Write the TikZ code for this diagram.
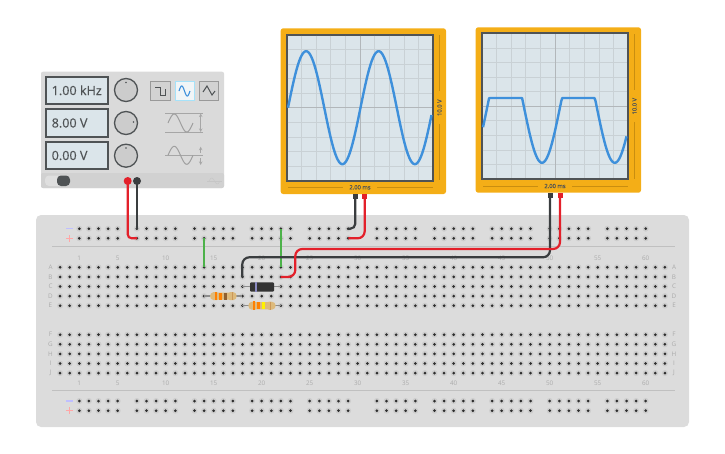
\documentclass[tikz,border=0pt]{standalone}
\usepackage{fontspec}
\setmainfont{Open Sans}
\newfontfamily\readfont[FakeBold=0.35]{Open Sans}
\definecolor{boardgrey}{HTML}{DCDCDC}
\definecolor{holehalo}{HTML}{CDCDCD}
\definecolor{holedark}{HTML}{2E2E2E}
\definecolor{labelgrey}{HTML}{ABABAB}
\definecolor{panelgrey}{HTML}{DADADA}
\definecolor{screenblue}{HTML}{DBE5EA}
\definecolor{framedark}{HTML}{4F5355}
\definecolor{scopeorange}{HTML}{F4AE17}
\definecolor{scopetick}{HTML}{C98E10}
\definecolor{traceblue}{HTML}{3E90DB}
\definecolor{wirered}{HTML}{E3202A}
\definecolor{wireblack}{HTML}{3A3D3F}
\definecolor{wiregreen}{HTML}{4DB24A}
\definecolor{restan}{HTML}{DDBA7C}
\tikzset{
  hole/.pic={\fill[holehalo] (0,0) circle (3);\fill[holedark] (0,0) circle (1.5);},
  redwire/.style={draw=wirered,line width=2.2pt,rounded corners=7pt},
  blackwire/.style={draw=wireblack,line width=2.2pt,rounded corners=7pt},
  greenwire/.style={draw=wiregreen,line width=2.3pt},
  lead/.style={draw=gray!90,line width=1.3pt},
  boardtext/.style={text=labelgrey,font=\fontsize{6.3}{7}\selectfont,inner sep=0pt},
  display/.style={draw=framedark,line width=2pt,fill=screenblue},
  readout/.style={text=framedark,font=\readfont\fontsize{12.6}{13}\selectfont,anchor=west,inner sep=0pt},
  knob/.style={draw=framedark,line width=1.3pt,fill=gray!40!white,circle,minimum size=23pt,inner sep=0pt},
  wavebutton/.style={draw=gray!80,line width=1pt,fill=gray!35!white},
  scopebody/.style={fill=scopeorange,rounded corners=2.5pt},
  gridline/.style={draw=gray!20!screenblue,line width=.7pt},
  trace/.style={draw=traceblue,line width=2.4pt,line join=round},
  scopetext/.style={text=framedark,font=\readfont\fontsize{5.8}{6}\selectfont,inner sep=0pt},
  scaleline/.style={draw=scopetick,line width=.6pt}
}
\begin{document}
\begin{tikzpicture}[x=1pt,y=-1pt]
  \useasboundingbox (0,0) rectangle (725,453);
  % breadboard
  \fill[boardgrey,rounded corners=5pt] (36,215) rectangle (689,427);
  \draw[gray!30!boardgrey,line width=.5pt] (52,246.7) -- (675,246.7);
  \draw[gray!30!boardgrey,line width=.5pt] (52,390.7) -- (675,390.7);
  % main holes
  \foreach \c in {-1,...,62} {
    \foreach \y in {267.3,276.9,286.5,296.1,305.7,334.7,344.3,353.9,363.5,373.1} {
      \pic at ({69.7+9.6*\c},\y) {hole};
    }
  }
  % rails
  \foreach \g in {1,7,13,19,25,32,38,44,50,56} {
    \foreach \i in {0,...,4} {
      \foreach \y in {228.7,238.3,401,410.7} {
        \pic at ({69.7+9.6*(\g+\i)},\y) {hole};
      }
    }
  }
  % board labels
  \foreach \n in {1,5,10,15,...,60} {
    \node[boardtext] (top\n) at ({69.7+9.6*\n},258) {\n};
    \node[boardtext] (bot\n) at ({69.7+9.6*\n},383.5) {\n};
  }
  \foreach \l/\y in {A/267.3,B/276.9,C/286.5,D/296.1,E/305.7,F/334.7,G/344.3,H/353.9,I/363.5,J/373.1} {
    \node[boardtext] (left\l) at (50.5,\y) {\l};
    \node[boardtext] (right\l) at (674,\y) {\l};
  }
  \foreach \y in {228.7,401} {
    \draw[blue!25!white,line width=1.2pt] (66,\y) -- (72.5,\y);
  }
  \foreach \y in {238.3,410.7} {
    \draw[red!35!white,line width=1.2pt] (66,\y) -- (72.5,\y) (69.2,\y-3.3) -- (69.2,\y+3.3);
  }
  % function generator
  \fill[panelgrey,rounded corners=2pt] (41,71.7) rectangle (224,188);
  \fill[gray!10!panelgrey,rounded corners=2pt] (41,173) rectangle (224,188);
  \draw[display] (45.7,76.7) rectangle (108,104);
  \draw[display] (45.7,109.3) rectangle (108,136.7);
  \draw[display] (45.7,141.7) rectangle (108,169.3);
  \node[readout] (freq) at (51.5,90.3) {1.00 kHz};
  \node[readout] (ampl) at (51.5,123) {8.00 V};
  \node[readout] (offs) at (51.5,155.5) {0.00 V};
  \node[knob] (knobf) at (126,90) {};
  \node[knob] (knoba) at (126,123) {};
  \node[knob] (knobo) at (126,155.7) {};
  \fill[framedark] (126,82.5) circle (.8);
  \fill[framedark] (133.5,122) circle (.8);
  \fill[framedark] (126,148) circle (.8);
  % wave buttons
  \draw[wavebutton] (150.7,81.7) rectangle (170,100);
  \draw[draw=cyan!35!white,fill=screenblue!40!white,line width=1pt] (175,81.7) rectangle (194,100);
  \draw[wavebutton] (199,81.7) rectangle (218,100);
  \draw[framedark,line width=1pt] (155,87) -- (160,87) -- (160,95) -- (165,95) -- (165,89);
  \draw[traceblue,line width=1.1pt,domain=179:190,samples=30,smooth] plot (\x,{91-5*sin((\x-179)/11*360)});
  \draw[framedark,line width=1pt] (203,92) -- (207,86) -- (212,95) -- (215,91);
  % sketches next to the knobs
  \draw[gray!70,line width=.6pt] (165,113.3) -- (203.3,113.3) (165,132.3) -- (203.3,132.3);
  \draw[gray!70,line width=.6pt,<->,>=stealth] (200.7,113.5) -- (200.7,132);
  \draw[gray!75,line width=1pt,domain=168:193,samples=30,smooth] plot (\x,{123-9*sin((\x-168)/25*360)});
  \draw[gray!70,line width=.6pt] (165,155.3) -- (203.3,155.3);
  \draw[gray!70,line width=.6pt,->,>=stealth] (200.7,153) -- (200.7,146.7);
  \draw[gray!70,line width=.6pt,->,>=stealth] (200.7,158) -- (200.7,165);
  \draw[gray!75,line width=1pt,domain=168:193,samples=30,smooth] plot (\x,{155.3-9*sin((\x-168)/25*360)});
  % switch
  \fill[gray!25!white,rounded corners=4pt] (45,175.5) rectangle (70,186);
  \fill[framedark,rounded corners=4pt] (57,175.5) rectangle (70,186);
  % logo
  \draw[gray!45!white,line width=.4pt,domain=209:220,samples=20,smooth] plot (\x,{181-3*sin((\x-209)/11*360)});
  \draw[gray!45!white,line width=.4pt] (207,181) -- (222,181);
  \fill[gray!35!white] (188,178.5) rectangle (204,179.5) (188,181.5) rectangle (204,182.5);
  % left oscilloscope
  \fill[scopebody] (280.7,28.3) rectangle (446,194);
  \draw[framedark,line width=2pt,fill=screenblue] (286.7,34.7) rectangle (433.3,180.7);
  \foreach \i in {1,...,9} {
    \draw[gridline] ({286.7+14.66*\i},35.7) -- ({286.7+14.66*\i},179.7);
    \draw[gridline] (287.7,{34.7+14.6*\i}) -- (432.3,{34.7+14.6*\i});
  }
  \draw[draw=gray!45!screenblue,line width=.9pt] (360,35.7) -- (360,179.7);
  \draw[draw=gray!45!screenblue,line width=.9pt] (287.7,107.7) -- (432.3,107.7);
  \draw[trace,domain=288:431.5,samples=140] plot (\x,{107.7-56.5*sin((\x-288)/72.5*360)});
  \node[scopetext] (timea) at (360,187.3) {2.00 ms};
  \draw[scaleline] (288,187.3) -- (343,187.3) (377,187.3) -- (433,187.3);
  \node[scopetext,rotate=90] (volta) at (439.5,107.7) {10.0 V};
  \draw[scaleline] (439.5,35) -- (439.5,91) (439.5,124) -- (439.5,180);
  % right oscilloscope
  \fill[scopebody] (475.7,27.3) rectangle (641,192.7);
  \draw[framedark,line width=2pt,fill=screenblue] (481.7,33.3) rectangle (628.3,179);
  \foreach \i in {1,...,9} {
    \draw[gridline] ({481.7+14.66*\i},34.3) -- ({481.7+14.66*\i},178);
    \draw[gridline] (482.7,{33.3+14.57*\i}) -- (627.3,{33.3+14.57*\i});
  }
  \draw[draw=gray!45!screenblue,line width=.9pt] (555,34.3) -- (555,178);
  \draw[draw=gray!45!screenblue,line width=.9pt] (482.7,106.2) -- (627.3,106.2);
  \draw[trace,domain=483:626.5,samples=144] plot (\x,{max(98,106.3-56.5*sin((\x-487.4)/72.8*360))});
  \node[scopetext] (timeb) at (555,186) {2.00 ms};
  \draw[scaleline] (483,186) -- (538,186) (572,186) -- (628,186);
  \node[scopetext,rotate=90] (voltb) at (634.5,106.2) {10.0 V};
  \draw[scaleline] (634.5,34) -- (634.5,90) (634.5,122) -- (634.5,179);
  % components
  \draw[lead] (204,296.1) -- (242.3,296.1);
  \draw[lead] (242.3,305.7) -- (280.7,305.7);
  \draw[lead] (242.3,286.5) -- (280.7,286.5);
  \fill[restan] (210,296.1) .. controls (210,291.5) and (216,291.5) .. (218,292.5) -- (229,292.5) .. controls (231,291.5) and (236.7,291.5) .. (236.7,296.1) .. controls (236.7,300.7) and (231,300.7) .. (229,299.7) -- (218,299.7) .. controls (216,300.7) and (210,300.7) .. (210,296.1) -- cycle;
  \fill[orange] (214.5,291.8) rectangle (217,300.4);
  \fill[orange] (219.3,292.5) rectangle (221.8,299.7);
  \fill[brown!75!black] (224.3,292.5) rectangle (226.8,299.7);
  \fill[brown!60!restan] (231.5,292) rectangle (232.5,300.2);
  \fill[restan] (248.3,305.7) .. controls (248.3,301.1) and (254.3,301.1) .. (256.3,302.1) -- (267.3,302.1) .. controls (269.3,301.1) and (275.7,301.1) .. (275.7,305.7) .. controls (275.7,310.3) and (269.3,310.3) .. (267.3,309.3) -- (256.3,309.3) .. controls (254.3,310.3) and (248.3,310.3) .. (248.3,305.7) -- cycle;
  \fill[orange] (252.5,301.4) rectangle (255,310);
  \fill[orange] (257.3,302.1) rectangle (259.8,309.3);
  \fill[yellow] (262.3,302.1) rectangle (264.8,309.3);
  \fill[brown!60!restan] (270,301.6) rectangle (271,309.8);
  \fill[black!80,rounded corners=1pt] (250,282.3) rectangle (274,291.7);
  \fill[gray!70!blue!70!white] (254.5,282.3) rectangle (256.8,291.7);
  % wire ends
  \coordinate (genred) at (127.7,181);
  \coordinate (genblack) at (137,181);
  \coordinate (railplusa) at (137,238.3);
  \coordinate (railminusa) at (137,228.7);
  \coordinate (scopeablack) at (355.3,196);
  \coordinate (scopeared) at (364.7,196);
  \coordinate (railminusb) at (348.3,228.7);
  \coordinate (railplusb) at (348.3,238.3);
  \coordinate (scopebblack) at (550,195);
  \coordinate (scopebred) at (560,195);
  \coordinate (diodein) at (242.3,276.9);
  \coordinate (diodeout) at (280.7,276.9);
  \coordinate (blackbend) at (550,257.3);
  \coordinate (redbend) at (560,249);
  \coordinate (redturn) at (295.3,249);
  \coordinate (greenatop) at (204,238.3);
  \coordinate (greenabot) at (204,267.3);
  \coordinate (greenbtop) at (280.7,228.7);
  \coordinate (greenbbot) at (280.7,267.3);
  % wires
  \draw[greenwire] (greenatop) -- (greenabot);
  \draw[greenwire] (greenbtop) -- (greenbbot);
  \draw[blackwire] (genblack) -- (railminusa);
  \draw[redwire,rounded corners=4pt] (genred) |- (railplusa);
  \draw[blackwire,rounded corners=5pt] (scopeablack) |- (railminusb);
  \draw[redwire] (scopeared) |- (railplusb);
  \draw[blackwire] (scopebblack) -- (blackbend) -| (diodein);
  \draw[redwire] (scopebred) -- (redbend) -- (redturn) |- (diodeout);
  % terminals
  \fill[wirered] (genred) circle (4);
  \fill[wireblack] (genblack) circle (4);
  \fill[wireblack] (scopeablack) ++(-2.5,-2) rectangle ++(5,5);
  \fill[wirered] (scopeared) ++(-2.5,-2) rectangle ++(5,5);
  \fill[wireblack] (scopebblack) ++(-2.5,-2) rectangle ++(5,5);
  \fill[wirered] (scopebred) ++(-2.5,-2) rectangle ++(5,5);
\end{tikzpicture}
\end{document}
